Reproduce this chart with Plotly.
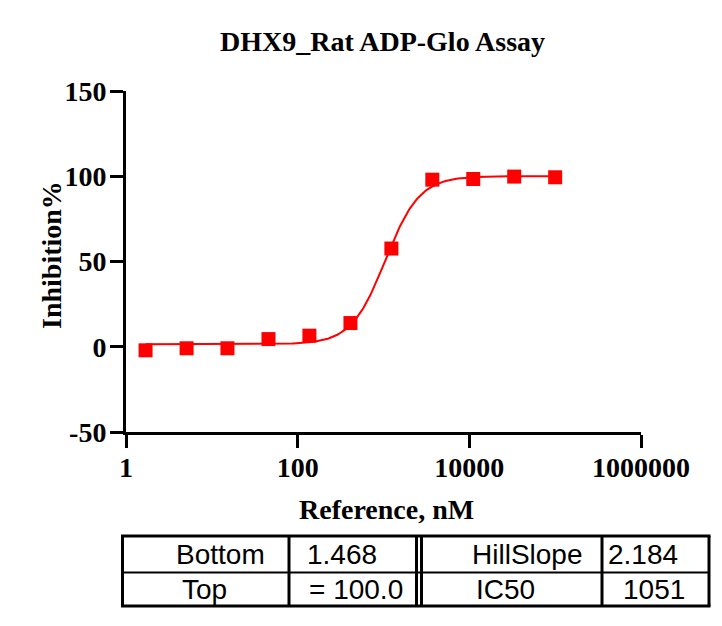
"""
DHX9_Rat ADP-Glo Assay — dose-response plot with 4PL fit and parameter table.
"""

import numpy as np
import plotly.graph_objects as go

# ── data ──────────────────────────────────────────────────────────────────────

conc_nM = [1.69, 5.08, 15.2, 45.7, 137, 412, 1235, 3704, 11111, 33333, 100000]
inhibition_pct = [-2.1, -0.9, -0.9, 4.5, 6.5, 13.9, 57.6, 98.0, 98.4, 99.8, 99.4]

# fitted 4PL parameters (as reported in the table)
fit_bottom = 1.468
fit_top = 100.0
fit_hillslope = 2.184
fit_ic50 = 1051

x_tickvals = [1, 100, 10000, 1000000]
x_ticktext = ["1", "100", "10000", "1000000"]
y_tickvals = [-50, 0, 50, 100, 150]
y_ticktext = ["-50", "0", "50", "100", "150"]

table_rows = [
    ["Bottom", "1.468", "HillSlope", "2.184"],
    ["Top", "= 100.0", "IC50", "1051"],
]

# ── layout helpers (pixel -> paper) ──────────────────────────────────────────

W, H = 722, 626
M_L, M_R, M_T, M_B = 126, 81, 91, 194
PW, PH = W - M_L - M_R, H - M_T - M_B


def px(x):
    return (x - M_L) / PW


def py(y):
    return (H - M_B - y) / PH


RED = "#FF0000"
SERIF = "Liberation Serif"
SANS = "Liberation Sans"

# fitted curve across the tested range
xs = np.logspace(np.log10(min(conc_nM)), np.log10(max(conc_nM)), 300)
ys = fit_bottom + (fit_top - fit_bottom) / (1 + (fit_ic50 / xs) ** fit_hillslope)

fig = go.Figure()
fig.add_trace(
    go.Scatter(x=xs, y=ys, mode="lines", line=dict(color=RED, width=2),
               hoverinfo="skip", showlegend=False, cliponaxis=False)
)
fig.add_trace(
    go.Scatter(x=conc_nM, y=inhibition_pct, mode="markers",
               marker=dict(symbol="square", size=14, color=RED),
               showlegend=False, cliponaxis=False)
)

axis_common = dict(
    showline=True, linewidth=3, linecolor="black",
    ticks="outside", ticklen=13, tickwidth=3, tickcolor="black",
    showgrid=False, zeroline=False,
    tickfont=dict(family=SERIF, size=28, color="black", weight="bold"),
)

fig.update_layout(
    width=W, height=H,
    margin=dict(l=M_L, r=M_R, t=M_T, b=M_B),
    paper_bgcolor="#FFFFFF",
    plot_bgcolor="#FFFFFF",
    xaxis=dict(type="log", range=[0, 6], tickvals=x_tickvals, ticktext=x_ticktext,
               ticklabelstandoff=-5, **axis_common),
    yaxis=dict(range=[-50, 150], tickvals=y_tickvals, ticktext=y_ticktext,
               ticklabelstandoff=-2, **axis_common),
)

# titles
title_font = dict(family=SERIF, size=28, color="black", weight="bold")
fig.add_annotation(text="DHX9_Rat ADP-Glo Assay", xref="paper", yref="paper",
                   x=px(382), y=py(42), xanchor="center", yanchor="middle",
                   showarrow=False, font=title_font)
fig.add_annotation(text="Reference, nM", xref="paper", yref="paper",
                   x=px(386), y=py(509), xanchor="center", yanchor="middle",
                   showarrow=False, font=title_font)
fig.add_annotation(text="Inhibition%", xref="paper", yref="paper",
                   x=px(51), y=py(255), xanchor="center", yanchor="middle",
                   showarrow=False, textangle=-90, font=title_font)

# ── parameter table ──────────────────────────────────────────────────────────

tbl_left, tbl_right, tbl_top, tbl_bot, tbl_mid = 122.5, 709, 536, 606, 572.5


def hline(y, x0, x1, w):
    fig.add_shape(type="line", xref="paper", yref="paper",
                  x0=px(x0), x1=px(x1), y0=py(y), y1=py(y),
                  line=dict(color="black", width=w))


def vline(x, w):
    fig.add_shape(type="line", xref="paper", yref="paper",
                  x0=px(x), x1=px(x), y0=py(tbl_top), y1=py(tbl_bot),
                  line=dict(color="black", width=w))


hline(tbl_top, tbl_left - 1.5, tbl_right + 1.5, 3)
hline(tbl_bot, tbl_left - 1.5, tbl_right + 1.5, 3)
hline(tbl_mid, tbl_left, tbl_right, 2)
vline(tbl_left, 3)
vline(tbl_right, 3)
vline(289, 3)
vline(416.5, 3)
vline(421.5, 3)
vline(602, 3)

cell_left_x = [[175, 306, 471, 607], [181, 308, 475, 622]]
row_y = [554, 589.5]
for r, row in enumerate(table_rows):
    for c, txt in enumerate(row):
        fig.add_annotation(text=txt, xref="paper", yref="paper",
                           x=px(cell_left_x[r][c]), y=py(row_y[r]),
                           xanchor="left", yanchor="middle", showarrow=False,
                           borderpad=0,
                           font=dict(family=SANS, size=28, color="black"))

fig.write_html("out.html", config={"displayModeBar": False},
               post_script="document.body.style.margin='0';")
